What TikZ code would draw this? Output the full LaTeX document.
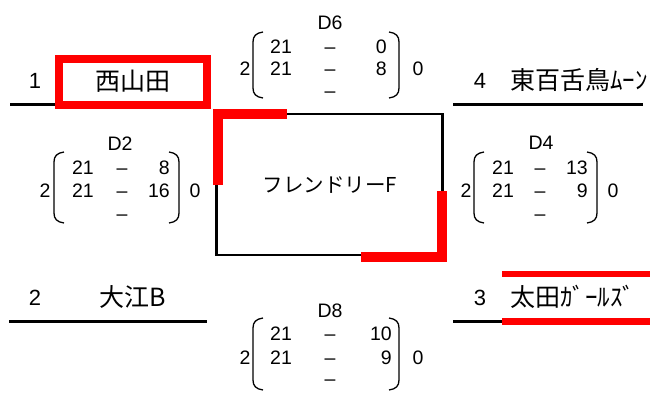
\documentclass[tikz,border=0pt]{standalone}
\usepackage{fontspec}
\setmainfont{Liberation Sans}
\newfontfamily\cjk{Noto Sans CJK JP}
\newcommand\mylparen[3]{\draw[paren] (#1+10,#2) .. controls (#1+3,#2+1) and (#1,#2+4) .. (#1,#2+10) -- (#1,#3-10) .. controls (#1,#3-4) and (#1+3,#3-1) .. (#1+10,#3);}
\newcommand\myrparen[3]{\draw[paren] (#1-10,#2) .. controls (#1-3,#2+1) and (#1,#2+4) .. (#1,#2+10) -- (#1,#3-10) .. controls (#1,#3-4) and (#1-3,#3-1) .. (#1-10,#3);}
\begin{document}
\begin{tikzpicture}[x=1pt,y=-1pt,
  blk/.style={line width=2.5pt,black},
  redbar/.style={line width=10pt,red,line join=miter},
  team/.style={font=\cjk\fontsize{25}{27}\selectfont,inner sep=0},
  seed/.style={font=\fontsize{22}{24}\selectfont,inner sep=0,text height=16pt,text depth=0pt},
  num/.style={font=\fontsize{19.5}{21}\selectfont,inner sep=0,text height=14pt,text depth=0pt},
  paren/.style={line width=1.3pt,black}]
\useasboundingbox (0,0) rectangle (650,392);

% team lines
\coordinate (l1a) at (10,104.5); \coordinate (l1b) at (210,104.5);
\draw[blk] (l1a) -- (l1b);
\coordinate (l4a) at (453,104.5); \coordinate (l4b) at (643,104.5);
\draw[blk] (l4a) -- (l4b);
\coordinate (l2a) at (9,321.5); \coordinate (l2b) at (207,321.5);
\draw[blk] (l2a) -- (l2b);
\coordinate (l3a) at (453,321.5); \coordinate (l3b) at (502,321.5); \coordinate (l3c) at (650,321.5);
\draw[blk] (l3a) -- (l3b);
\draw[red,line width=7pt] (l3b) -- (l3c);
\coordinate (l3d) at (502,273.7); \coordinate (l3e) at (650,273.7);
\draw[red,line width=6pt] (l3d) -- (l3e);

% teams
\node[seed] (s1) at (35,80) {1};
\node[team,draw=red,line width=8pt,minimum width=148pt,minimum height=46pt] (t1) at (133,81.5) {西山田};
\node[seed] (s4) at (480,80) {4};
\node[team,anchor=west] (t4) at (510,80) {東百舌鳥ﾑｰﾝ};
\node[seed] (s2) at (35,297) {2};
\node[team] (t2) at (133,297) {大江B};
\node[seed] (s3) at (480,297) {3};
\node[team,anchor=west] (t3) at (510,297) {太田ｶﾞｰﾙｽﾞ};

% center box
\node[draw,line width=2.5pt,outer sep=0,minimum width=226pt,minimum height=141pt,
      font=\cjk\fontsize{20.5}{22}\selectfont] (box) at (329.7,184.7) {フレンドリーF};
\coordinate (r1a) at (218,185); \coordinate (r1b) at (218,113.5); \coordinate (r1c) at (287,113.5);
\draw[redbar] (r1a) -- (r1b) -- (r1c);
\coordinate (r2a) at (361,257); \coordinate (r2b) at (442,257); \coordinate (r2c) at (442,191);
\draw[redbar] (r2a) -- (r2b) -- (r2c);

% D6
\node[num] (d6) at (330,22) {D6};
\node[num] (d6w) at (245,68.3) {2};
\mylparen{253}{32}{98}
\node[num] (d6a1) at (281,46.7) {21};
\node[num] (d6a2) at (330,46.7) {–};
\node[num,anchor=east] (d6a3) at (387,46.7) {0};
\node[num] (d6b1) at (281,68.3) {21};
\node[num] (d6b2) at (330,68.3) {–};
\node[num,anchor=east] (d6b3) at (387,68.3) {8};
\node[num] (d6c2) at (330,90) {–};
\myrparen{399}{32}{98}
\node[num] (d6l) at (418,68.3) {0};

% D8
\node[num] (d8) at (330,310) {D8};
\node[num] (d8w) at (245,357) {2};
\mylparen{253}{318}{390}
\node[num] (d8a1) at (281,333) {21};
\node[num] (d8a2) at (330,333) {–};
\node[num,anchor=east] (d8a3) at (392,333) {10};
\node[num] (d8b1) at (281,357) {21};
\node[num] (d8b2) at (330,357) {–};
\node[num,anchor=east] (d8b3) at (392,357) {9};
\node[num] (d8c2) at (330,378) {–};
\myrparen{399}{318}{390}
\node[num] (d8l) at (418,357) {0};

% D2
\node[num] (d2) at (120,143) {D2};
\node[num] (d2w) at (45,190) {2};
\mylparen{54}{152}{223}
\node[num] (d2a1) at (83,167) {21};
\node[num] (d2a2) at (122,167) {–};
\node[num,anchor=east] (d2a3) at (170,167) {8};
\node[num] (d2b1) at (83,190) {21};
\node[num] (d2b2) at (122,190) {–};
\node[num,anchor=east] (d2b3) at (170,190) {16};
\node[num] (d2c2) at (122,213) {–};
\myrparen{179}{152}{223}
\node[num] (d2l) at (195,190) {0};

% D4
\node[num] (d4) at (541,142) {D4};
\node[num] (d4w) at (466,190) {2};
\mylparen{474}{152}{223}
\node[num] (d4a1) at (503,167) {21};
\node[num] (d4a2) at (540,167) {–};
\node[num,anchor=east] (d4a3) at (588,167) {13};
\node[num] (d4b1) at (503,190) {21};
\node[num] (d4b2) at (540,190) {–};
\node[num,anchor=east] (d4b3) at (588,190) {9};
\node[num] (d4c2) at (540,213) {–};
\myrparen{597}{152}{223}
\node[num] (d4l) at (613,190) {0};
\end{tikzpicture}
\end{document}
